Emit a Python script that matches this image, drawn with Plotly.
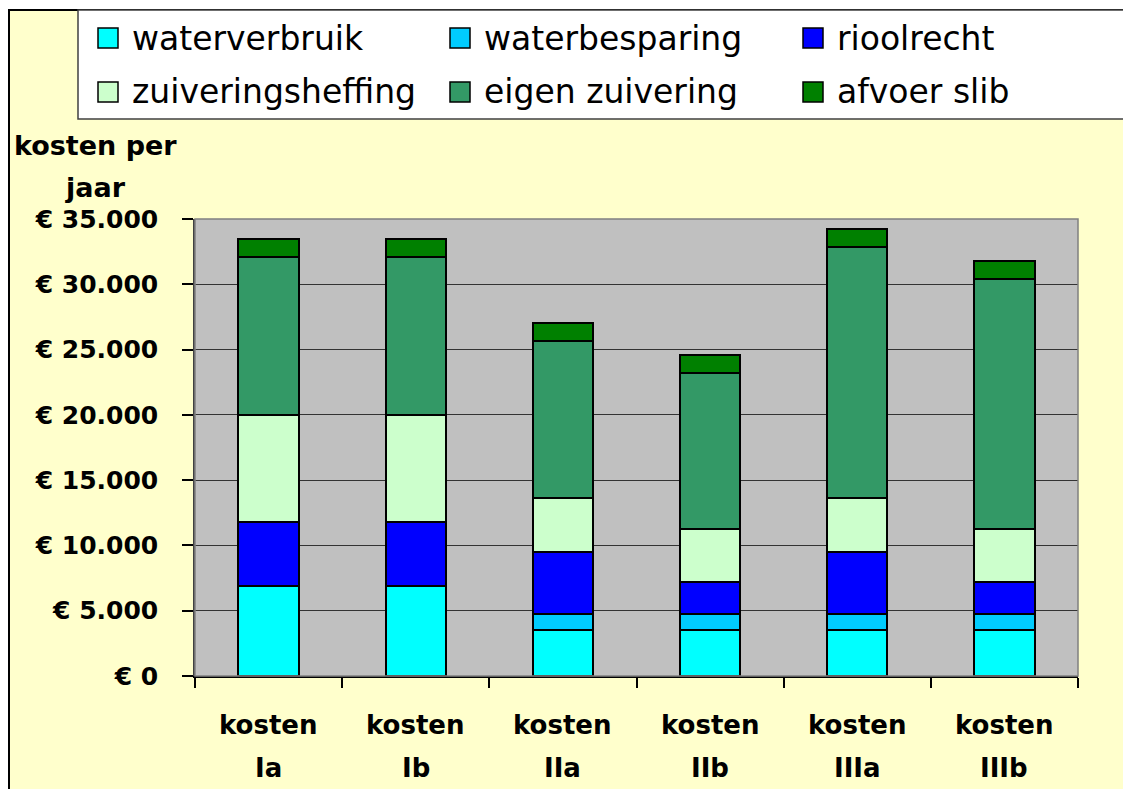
import plotly.graph_objects as go

# ---- data -------------------------------------------------------------
categories = ["kosten Ia", "kosten Ib", "kosten IIa", "kosten IIb", "kosten IIIa", "kosten IIIb"]

series_names = ["waterverbruik", "waterbesparing", "rioolrecht",
                "zuiveringsheffing", "eigen zuivering", "afvoer slib"]

waterverbruik = [6860, 6860, 3500, 3500, 3500, 3500]
waterbesparing = [0, 0, 1220, 1220, 1220, 1220]
rioolrecht = [4920, 4920, 4740, 2450, 4740, 2450]
zuiveringsheffing = [8240, 8240, 4140, 4110, 4140, 4110]
eigen_zuivering = [12090, 12090, 12060, 11930, 19250, 19130]
afvoer_slib = [1370, 1370, 1400, 1400, 1380, 1380]

y_tick_values = [0, 5000, 10000, 15000, 20000, 25000, 30000, 35000]
y_tick_labels = ["€ 0", "€ 5.000", "€ 10.000", "€ 15.000",
                 "€ 20.000", "€ 25.000", "€ 30.000", "€ 35.000"]

y_title_lines = ["kosten per", "jaar"]

# ---- styling ----------------------------------------------------------
series_values = [waterverbruik, waterbesparing, rioolrecht,
                 zuiveringsheffing, eigen_zuivering, afvoer_slib]
series_colors = ["#00FFFF", "#00CCFF", "#0000FF", "#CCFFCC", "#339966", "#008000"]

W, H = 1123, 789
L, R, T, B = 195, 45, 219, 113
PW, PH = W - L - R, H - T - B

def px_x(px):
    return (px - L) / PW

def px_y(py):
    return (H - B - py) / PH

FONT = "DejaVu Sans"

fig = go.Figure()
for name, vals, col in zip(series_names, series_values, series_colors):
    fig.add_trace(go.Bar(
        x=categories, y=vals, name=name,
        marker=dict(color=col, line=dict(color="black", width=2)),
        showlegend=False,
    ))

shapes = []
annotations = []

# white surround and black frame of the chart area
shapes.append(dict(type="rect", xref="paper", yref="paper",
                   x0=px_x(-20), x1=px_x(9), y0=px_y(820), y1=px_y(-20),
                   fillcolor="white", line=dict(width=0)))
shapes.append(dict(type="rect", xref="paper", yref="paper",
                   x0=px_x(-20), x1=px_x(1150), y0=px_y(10), y1=px_y(-20),
                   fillcolor="white", line=dict(width=0)))
shapes.append(dict(type="rect", xref="paper", yref="paper",
                   x0=px_x(9), x1=px_x(1160), y0=px_y(830), y1=px_y(10),
                   fillcolor="rgba(0,0,0,0)", line=dict(color="black", width=2)))

# legend box
shapes.append(dict(type="rect", xref="paper", yref="paper",
                   x0=px_x(78), x1=px_x(1160), y0=px_y(119), y1=px_y(10),
                   fillcolor="white", line=dict(color="#404040", width=1.5)))

legend_cols = [98, 450, 803]
legend_rows = [38, 92]
for i, (name, col) in enumerate(zip(series_names, series_colors)):
    cx = legend_cols[i % 3]
    cy = legend_rows[i // 3]
    shapes.append(dict(type="rect", xref="paper", yref="paper",
                       x0=px_x(cx), x1=px_x(cx + 20),
                       y0=px_y(cy + 10), y1=px_y(cy - 10),
                       fillcolor=col, line=dict(color="black", width=1.5)))
    annotations.append(dict(xref="paper", yref="paper",
                            x=px_x(cx + 32), y=px_y(cy), text=name,
                            xanchor="left", yanchor="middle", showarrow=False,
                            font=dict(family=FONT, size=33, color="black")))

# plot area border (top / right)
shapes.append(dict(type="rect", xref="paper", yref="paper",
                   x0=0, x1=1, y0=0, y1=1,
                   fillcolor="rgba(0,0,0,0)", line=dict(color="#808080", width=1.5)))

# y-axis title
for line, py in zip(y_title_lines, [145, 188]):
    annotations.append(dict(xref="paper", yref="paper", x=px_x(95), y=px_y(py),
                            text=line, showarrow=False,
                            xanchor="center", yanchor="middle",
                            font=dict(family=FONT, size=27, color="black", weight="bold")))

# category labels on two lines
for cat in categories:
    first, second = cat.split(" ", 1)
    for txt, py in zip([first, second], [725, 768]):
        annotations.append(dict(xref="x", yref="paper", x=cat, y=px_y(py),
                                text=txt, showarrow=False,
                                xanchor="center", yanchor="middle",
                                font=dict(family=FONT, size=26, color="black", weight="bold")))

fig.update_layout(
    width=W, height=H,
    margin=dict(l=L, r=R, t=T, b=B, autoexpand=False),
    paper_bgcolor="#FFFFCC",
    plot_bgcolor="#C0C0C0",
    barmode="stack",
    bargap=0.59,
    showlegend=False,
    shapes=shapes,
    annotations=annotations,
    xaxis=dict(
        type="category",
        tickson="boundaries",
        ticks="outside", ticklen=10, tickcolor="black", tickwidth=1.5,
        showticklabels=False,
        showline=True, linecolor="black", linewidth=2,
        showgrid=False, zeroline=False,
        automargin=False,
    ),
    yaxis=dict(
        range=[0, 35000],
        tickvals=y_tick_values, ticktext=y_tick_labels,
        ticks="outside", ticklen=11, tickcolor="black", tickwidth=1.5,
        ticklabelstandoff=19,
        tickfont=dict(family=FONT, size=25, color="black", weight="bold"),
        showline=True, linecolor="#404040", linewidth=1.5,
        showgrid=True, gridcolor="#333333", gridwidth=1,
        zeroline=False,
        automargin=False,
    ),
)

fig.write_html("out.html")
